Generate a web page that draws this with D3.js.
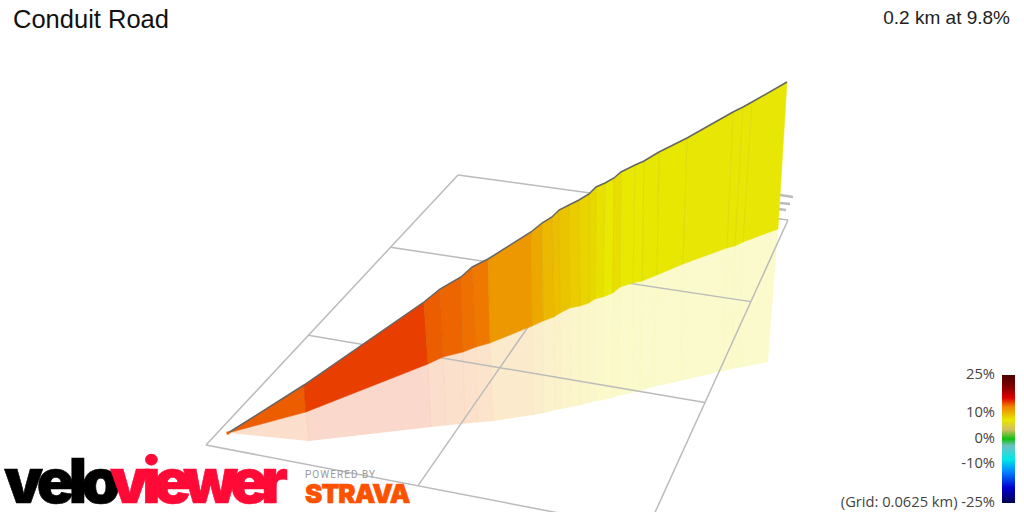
<!DOCTYPE html>
<html>
<head>
<meta charset="utf-8">
<script src="https://cdn.jsdelivr.net/npm/d3@7"></script>
<style>
  html, body { margin: 0; padding: 0; background: #fff; overflow: hidden; }
  svg { display: block; }
</style>
</head>
<body>
<svg id="chart"></svg>
<script>
// route, in view units along the screen plane
const topAcross = [0, 38, 98, 106, 116.5, 122, 130, 151.5, 157, 162, 165.5, 170.5, 175.5, 180.5, 184, 188.5, 193, 196.5, 203.5, 208, 215.5, 229.5, 252.5, 257.5, 262, 279.5];
const topRise = [0, 24, 65.5, 72, 78, 83, 87, 100.5, 105, 108, 111.5, 114, 116.5, 119.5, 123, 125, 127.5, 130.5, 134, 136, 140.5, 147.5, 160.5, 163, 165.5, 175.5];
const baseAcross = [0, 39, 100, 107.5, 117.5, 124, 131, 152, 157.5, 163, 166, 171, 176, 180.5, 183.5, 187.5, 192.5, 196, 202.5, 207, 214.5, 227.5, 249.5, 253.5, 257.5, 275];
const baseRise = [0, 10.5, 34.5, 38, 40.5, 43, 45, 53.5, 56, 58, 60, 62.5, 63.5, 65, 67, 68, 70, 73, 75, 76, 79, 84.5, 92.5, 93.5, 95.5, 102];
const shadowAcross = [0, 40.5, 101.5, 109, 118.5, 124.5, 132.5, 152.5, 158, 163.5, 166.5, 171.5, 176.5, 180.5, 184, 187.5, 192, 195, 202, 206, 212.5, 226, 247.5, 252, 255, 270];
const shadowRise = [0, -4, 3, 3.7, 4.7, 5.3, 6, 9, 10, 11.5, 12, 13, 14, 15, 16, 16.5, 17.5, 18.5, 20, 21, 23, 26, 31, 32, 32.5, 35.5];

// gradient of each segment between two stations, percent
const segmentGrades = [13.6, 14.4, 13.6, 13.4, 13.1, 12.9, 11.5, 10.7, 9.9, 9.6, 9.3, 8.9, 8.5, 8.3, 7.9, 7.5, 8, 7.5, 7.5, 7.4, 7.4, 7.3, 7.3, 7.3, 7.3];

// stubs showing behind the far end of the wall
const stubAcross = [276, 282.5, 276, 281, 275, 279];
const stubRise = [119, 118, 115, 114.5, 112, 111.5];

const gridEastKm = [0, 0.0625, 0.125];
const gridNorthKm = [0, 0.0625, 0.125, 0.1875];

const legendStops = [25, 20, 16, 12.7, 7.5, 3.6, 0, -2.6, -8, -13, -19, -25];
const legendColors = ['#4a0000', '#8a0000', '#e00000', '#f08000', '#e8e800', '#d0c060', '#10c010', '#70c0c0', '#00e8e8', '#0080ff', '#0000d0', '#000050'];
const legendTicks = [25, 10, 0, -10, -25];

const width = 1024;
const height = 512;

const svg = d3.select('#chart')
  .attr('width', width)
  .attr('height', height);

const viewX = d3.scaleLinear().domain([0, 400]).range([228, 1028]);
const viewY = d3.scaleLinear().domain([0, 200]).range([433, 33]);
const gradeColor = d3.scaleLinear().domain(legendStops).range(legendColors);

const polygon = d3.line()
  .x(function(p) { return viewX(p[0]); })
  .y(function(p) { return viewY(p[1]); });

// ground plane: km on the ground to the screen through a perspective map
const eastScale = d3.scaleLinear().domain([0, 0.125]).range([0, 1]);
const northScale = d3.scaleLinear().domain([0, 0.1875]).range([0, 1]);

function perspective(c) {
  const dx1 = c[1][0] - c[2][0];
  const dx2 = c[3][0] - c[2][0];
  const sx = c[0][0] - c[1][0] + c[2][0] - c[3][0];
  const dy1 = c[1][1] - c[2][1];
  const dy2 = c[3][1] - c[2][1];
  const sy = c[0][1] - c[1][1] + c[2][1] - c[3][1];
  const det = dx1 * dy2 - dx2 * dy1;
  const g = (sx * dy2 - dx2 * sy) / det;
  const h = (dx1 * sy - sx * dy1) / det;
  const a = c[1][0] - c[0][0] + g * c[1][0];
  const b = c[3][0] - c[0][0] + h * c[3][0];
  const d = c[1][1] - c[0][1] + g * c[1][1];
  const e = c[3][1] - c[0][1] + h * c[3][1];
  return function(east, north) {
    const s = eastScale(east);
    const t = northScale(north);
    const w = g * s + h * t + 1;
    return [(a * s + b * t + c[0][0]) / w, (d * s + e * t + c[0][1]) / w];
  };
}

const ground = perspective([[206, 445], [647, 530], [788, 220], [458, 175]]);

const segments = segmentGrades.map(function(grade, i) {
  return {
    color: gradeColor(grade),
    wall: [
      [topAcross[i], topRise[i]],
      [topAcross[i + 1], topRise[i + 1]],
      [baseAcross[i + 1], baseRise[i + 1]],
      [baseAcross[i], baseRise[i]]
    ],
    shadow: [
      [baseAcross[i], baseRise[i]],
      [baseAcross[i + 1], baseRise[i + 1]],
      [shadowAcross[i + 1], shadowRise[i + 1]],
      [shadowAcross[i], shadowRise[i]]
    ]
  };
});

function drawShadow() {
  const shadow = svg.append('g');
  shadow.selectAll('.face')
    .data(segments)
    .enter()
    .append('path')
    .attr('class', 'face')
    .attr('d', function(s) { return polygon(s.shadow) + 'Z'; })
    .attr('fill', function(s) { return s.color; })
    .attr('fill-opacity', 0.2);

  shadow.selectAll('.seam')
    .data(segments.slice(1))
    .enter()
    .append('path')
    .attr('class', 'seam')
    .attr('d', function(s) { return polygon([s.shadow[0], s.shadow[3]]); })
    .attr('stroke', function(s) { return s.color; })
    .attr('stroke-opacity', 0.06)
    .attr('fill', 'none');
}

function drawGrid() {
  const lines = [];
  gridEastKm.forEach(function(east) {
    lines.push([ground(east, 0), ground(east, 0.1875)]);
  });
  gridNorthKm.forEach(function(north) {
    lines.push([ground(0, north), ground(0.125, north)]);
  });
  svg.append('g').selectAll('line')
    .data(lines)
    .enter()
    .append('line')
    .attr('x1', function(l) { return l[0][0]; })
    .attr('y1', function(l) { return l[0][1]; })
    .attr('x2', function(l) { return l[1][0]; })
    .attr('y2', function(l) { return l[1][1]; })
    .attr('stroke', '#bbb')
    .attr('stroke-width', 1.5);
}

function drawStubs() {
  svg.append('g').selectAll('line')
    .data(d3.range(0, stubAcross.length, 2))
    .enter()
    .append('line')
    .attr('x1', function(i) { return viewX(stubAcross[i]); })
    .attr('y1', function(i) { return viewY(stubRise[i]); })
    .attr('x2', function(i) { return viewX(stubAcross[i + 1]); })
    .attr('y2', function(i) { return viewY(stubRise[i + 1]); })
    .attr('stroke', '#bbb')
    .attr('stroke-width', 2.5);
}

function drawWall() {
  const wall = svg.append('g');
  wall.selectAll('.face')
    .data(segments)
    .enter()
    .append('path')
    .attr('class', 'face')
    .attr('d', function(s) { return polygon(s.wall) + 'Z'; })
    .attr('fill', function(s) { return s.color; })
    .attr('stroke', function(s) { return s.color; })
    .attr('stroke-width', 0.5);

  // darker seam on the join of two faces
  wall.selectAll('.seam')
    .data(segments.slice(1))
    .enter()
    .append('path')
    .attr('class', 'seam')
    .attr('d', function(s) { return polygon([s.wall[0], s.wall[3]]); })
    .attr('stroke', function(s) { return d3.color(s.color).darker(0.5); })
    .attr('stroke-opacity', 0.3)
    .attr('fill', 'none');

  svg.append('path')
    .datum(d3.zip(topAcross, topRise))
    .attr('d', polygon)
    .attr('fill', 'none')
    .attr('stroke', '#666')
    .attr('stroke-width', 1.5);

  svg.append('rect')
    .attr('x', viewX(0) - 1.5)
    .attr('y', viewY(0) - 1.5)
    .attr('width', 3)
    .attr('height', 3)
    .attr('fill', segments[0].color);
}

function drawLegend() {
  const legendY = d3.scaleLinear().domain([25, -25]).range([375, 503]);
  const gradient = svg.append('defs').append('linearGradient')
    .attr('id', 'gradeRamp')
    .attr('x1', 0).attr('y1', 0).attr('x2', 0).attr('y2', 1);
  gradient.selectAll('stop')
    .data(legendStops)
    .enter()
    .append('stop')
    .attr('offset', function(g) { return (legendY(g) - 375) / 128; })
    .attr('stop-color', function(g) { return gradeColor(g); });

  svg.append('rect')
    .attr('x', 1002)
    .attr('y', 375)
    .attr('width', 13)
    .attr('height', 128)
    .attr('fill', 'url(#gradeRamp)');

  const axis = d3.axisLeft(legendY)
    .tickValues(legendTicks)
    .tickSize(0)
    .tickPadding(7)
    .tickFormat(function(g) {
      return (g === -25 ? '(Grid: 0.0625 km) ' : '') + g + '%';
    });

  const legend = svg.append('g')
    .attr('transform', 'translate(1002, -1.5)')
    .call(axis);
  legend.select('.domain').remove();
  legend.selectAll('text')
    .attr('font-family', '"Open Sans", sans-serif')
    .attr('font-size', 14.7)
    .attr('fill', '#444');
}

function drawText() {
  svg.append('text')
    .attr('x', 13)
    .attr('y', 28)
    .attr('font-family', '"Liberation Sans", sans-serif')
    .attr('font-size', 25.5)
    .attr('fill', '#111')
    .text('Conduit Road');

  svg.append('text')
    .attr('x', 1010)
    .attr('y', 24)
    .attr('text-anchor', 'end')
    .attr('font-family', '"Liberation Sans", sans-serif')
    .attr('font-size', 19)
    .attr('fill', '#222')
    .text('0.2 km at 9.8%');
}

function logoText(label, x, y, size, spacing, color) {
  return svg.append('text')
    .attr('x', x)
    .attr('y', y)
    .attr('font-family', 'Inter, sans-serif')
    .attr('font-weight', 900)
    .attr('font-size', size)
    .attr('letter-spacing', spacing)
    .attr('fill', color)
    .attr('stroke', color)
    .attr('stroke-width', 0.6)
    .text(label);
}

function drawLogos() {
  logoText('velo', 4, 503, 62, -5.5, '#000');
  logoText('viewer', 110, 503, 62, -7, '#ff0a37');

  svg.append('text')
    .attr('x', 305)
    .attr('y', 478)
    .attr('font-family', 'Roboto, sans-serif')
    .attr('font-size', 10)
    .attr('letter-spacing', 1.05)
    .attr('fill', '#999')
    .text('POWERED BY');

  logoText('STRAVA', 305, 503, 26, -0.9, '#fc5200');
}

drawShadow();
drawGrid();
drawStubs();
drawWall();
drawLegend();
drawText();
drawLogos();
</script>
</body>
</html>
